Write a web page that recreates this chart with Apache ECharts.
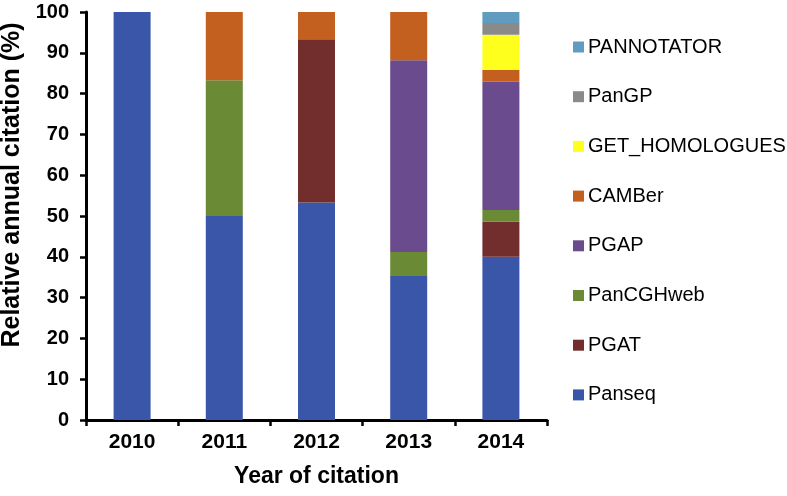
<!DOCTYPE html>
<html><head><meta charset="utf-8">
<script src="https://cdn.jsdelivr.net/npm/echarts@6/dist/echarts.min.js"></script>
<style>html,body{margin:0;padding:0;background:#fff}#c{width:787px;height:496px}</style>
</head><body><div id="c"></div>
<script>
var years = ['2010','2011','2012','2013','2014'];
var seriesNames = ['Panseq','PGAT','PanCGHweb','PGAP','CAMBer','GET_HOMOLOGUES','PanGP','PANNOTATOR'];
var Panseq = [100, 50, 53.3, 35.3, 40];
var PGAT = [0, 0, 40, 0, 8.6];
var PanCGHweb = [0, 33.3, 0, 5.9, 2.9];
var PGAP = [0, 0, 0, 47.0, 31.4];
var CAMBer = [0, 16.7, 6.7, 11.8, 2.9];
var GET_HOMOLOGUES = [0, 0, 0, 0, 8.6];
var PanGP = [0, 0, 0, 0, 2.9];
var PANNOTATOR = [0, 0, 0, 0, 2.9];
var yTicks = [0,10,20,30,40,50,60,70,80,90,100];

var values = [Panseq, PGAT, PanCGHweb, PGAP, CAMBer, GET_HOMOLOGUES, PanGP, PANNOTATOR];
var colors = ['#3A56A8','#722D2D','#6A8A36','#6A4C8E','#C4601F','#FFFF1E','#8A8A8A','#5F9CC0'];
var font = 'Liberation Sans, Arial, sans-serif';

var chart = echarts.init(document.getElementById('c'), null, {renderer:'canvas'});
chart.setOption({
  animation: false,
  grid: {left: 86, right: 240, top: 12, bottom: 76, containLabel: false, outerBoundsMode: 'none'},
  legend: {
    orient: 'vertical', left: 568, top: 32,
    data: seriesNames.slice().reverse(),
    itemWidth: 11, itemHeight: 11, itemGap: 29.7,
    icon: 'rect',
    textStyle: {fontFamily: font, fontSize: 20, color: '#000', padding: [0,0,0,-1]}
  },
  xAxis: {
    type: 'category', data: years,
    name: 'Year of citation', nameLocation: 'middle', nameGap: 45,
    nameTextStyle: {fontFamily: font, fontSize: 23, fontWeight: 'bold', color: '#000'},
    axisLine: {lineStyle: {color: '#000', width: 3}},
    axisTick: {show: true, alignWithLabel: false, length: 6, lineStyle: {color: '#000', width: 2.5}},
    axisLabel: {fontFamily: font, fontSize: 21, fontWeight: 'bold', color: '#000', margin: 12}
  },
  yAxis: {
    type: 'value', min: yTicks[0], max: yTicks[yTicks.length-1], interval: 10,
    name: 'Relative annual citation (%)', nameLocation: 'middle', nameGap: 54,
    nameTextStyle: {fontFamily: font, fontSize: 25, fontWeight: 'bold', color: '#000', padding: [0,0,0,62]},
    axisLine: {show: true, lineStyle: {color: '#000', width: 3}},
    axisTick: {show: true, length: 6, lineStyle: {color: '#000', width: 2.5}},
    splitLine: {show: false},
    axisLabel: {fontFamily: font, fontSize: 20, fontWeight: 'bold', color: '#000', margin: 17}
  },
  series: seriesNames.map(function(n, i){
    return {name: n, type: 'bar', stack: 'total', barWidth: 37, data: values[i],
      itemStyle: {color: colors[i]}};
  })
});
</script></body></html>
